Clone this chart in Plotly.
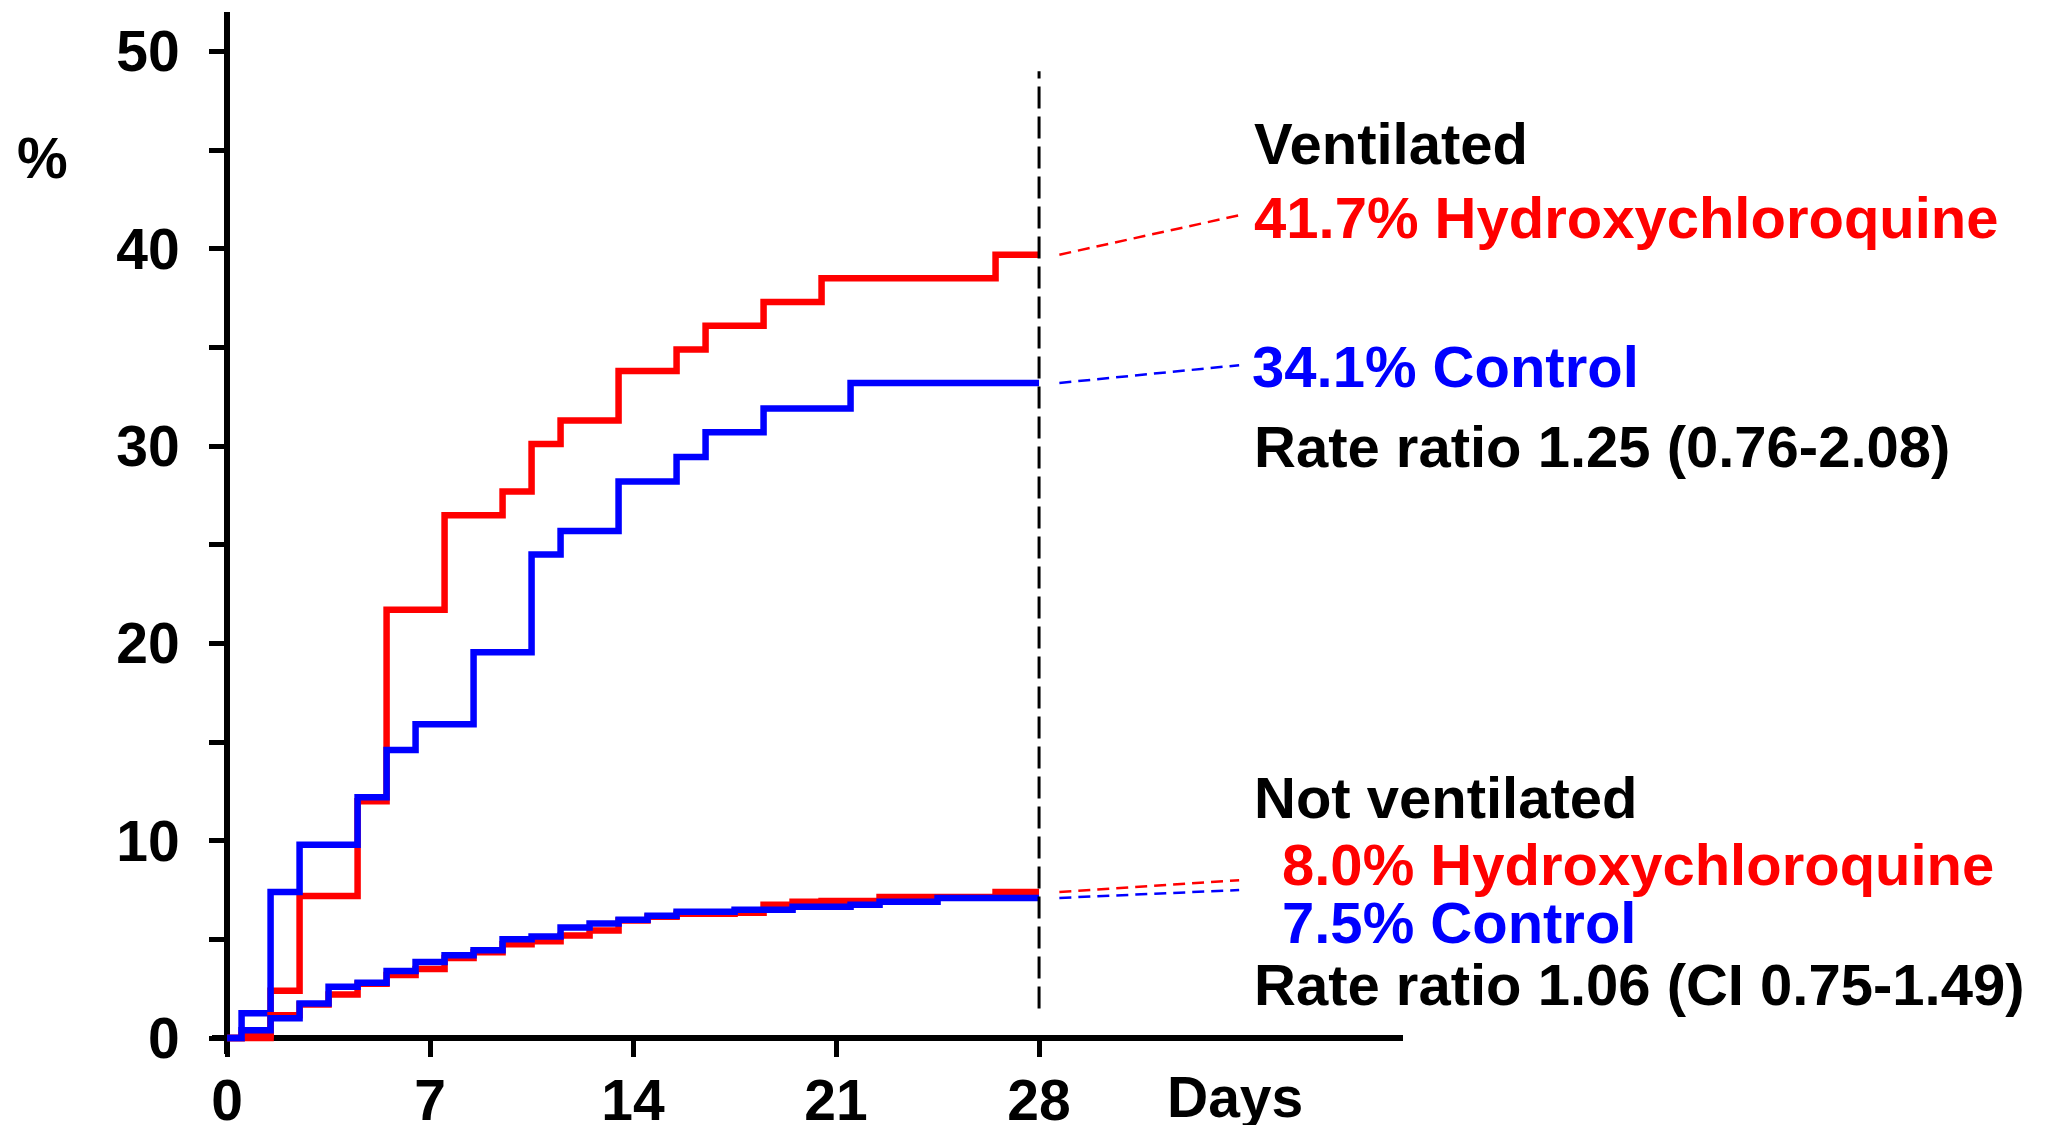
import plotly.graph_objects as go

# ---------------- data (cumulative % by day, step functions) ----------------
vent_hcq_days = [0, 1.5, 2.5, 4.5, 5.5, 7.5, 9.5, 10.5, 11.5, 13.5, 15.5, 16.5, 18.5, 20.5, 26.5, 28]
vent_hcq_pct = [0, 2.4, 7.2, 12.0, 21.7, 26.5, 27.7, 30.1, 31.3, 33.8, 34.9, 36.1, 37.3, 38.5, 39.7, 39.7]

vent_ctl_days = [0, 0.5, 1.5, 2.5, 4.5, 5.5, 6.5, 8.5, 10.5, 11.5, 13.5, 15.5, 16.5, 18.5, 21.5, 28]
vent_ctl_pct = [0, 1.25, 7.4, 9.8, 12.2, 14.6, 15.9, 19.55, 24.5, 25.7, 28.2, 29.45, 30.7, 31.9, 33.2, 33.2]

nonvent_hcq_days = [0, 0.5, 1.5, 2.5, 3.5, 4.5, 5.5, 6.5, 7.5, 8.5, 9.5, 10.5, 11.5, 12.5, 13.5,
                    14.5, 15.5, 17.5, 18.5, 19.5, 20.5, 22.5, 26.5, 28]
nonvent_hcq_pct = [0, 0.15, 1.15, 1.7, 2.2, 2.75, 3.2, 3.5, 4.05, 4.35, 4.75, 4.9, 5.2, 5.45, 5.95,
                   6.15, 6.3, 6.35, 6.75, 6.9, 6.95, 7.15, 7.4, 7.4]

nonvent_ctl_days = [0, 0.5, 1.5, 2.5, 3.5, 4.5, 5.5, 6.5, 7.5, 8.5, 9.5, 10.5, 11.5, 12.5, 13.5,
                    14.5, 15.5, 17.5, 19.5, 21.5, 22.5, 24.5, 28]
nonvent_ctl_pct = [0, 0.4, 1.0, 1.75, 2.6, 2.8, 3.4, 3.85, 4.2, 4.45, 5.0, 5.15, 5.6, 5.8, 6.0,
                   6.2, 6.4, 6.5, 6.65, 6.75, 6.9, 7.1, 7.1]

# reported 28-day percentages (labels)
vent_hcq_label = 41.7
vent_ctl_label = 34.1
nonvent_hcq_label = 8.0
nonvent_ctl_label = 7.5

x_ticks = [0, 7, 14, 21, 28]
y_ticks = [0, 5, 10, 15, 20, 25, 30, 35, 40, 45, 50]
y_tick_text = ["0", "", "10", "", "20", "", "30", "", "40", "", "50"]

RED = "#FF0000"
BLUE = "#0000FF"
FONT = "Liberation Sans, Arial, Helvetica, sans-serif"

X_RANGE = [-0.52, 40.55]
Y_RANGE = [-0.81, 52.0]
END_DAY = 28
CONN_X0, CONN_X1 = 28.7, 34.9


def px(x):
    return (x - X_RANGE[0]) / (X_RANGE[1] - X_RANGE[0])


def py(y):
    return (y - Y_RANGE[0]) / (Y_RANGE[1] - Y_RANGE[0])


fig = go.Figure()


def step(days, pct, color):
    fig.add_trace(go.Scatter(x=days, y=pct, mode="lines", line_shape="hv",
                             line=dict(color=color, width=6.5), hoverinfo="skip",
                             showlegend=False))


step(vent_hcq_days, vent_hcq_pct, RED)
step(vent_ctl_days, vent_ctl_pct, BLUE)
step(nonvent_hcq_days, nonvent_hcq_pct, RED)
step(nonvent_ctl_days, nonvent_ctl_pct, BLUE)

# connectors from curve end to label
for final, label, color in [(vent_hcq_pct[-1], vent_hcq_label, RED),
                            (vent_ctl_pct[-1], vent_ctl_label, BLUE),
                            (nonvent_hcq_pct[-1], nonvent_hcq_label, RED),
                            (nonvent_ctl_pct[-1], nonvent_ctl_label, BLUE)]:
    fig.add_trace(go.Scatter(x=[CONN_X0, CONN_X1], y=[final, label], mode="lines",
                             line=dict(color=color, width=2.5, dash="12px,7px"),
                             hoverinfo="skip", showlegend=False))

# vertical dashed line at day 28
fig.add_trace(go.Scatter(x=[END_DAY, END_DAY], y=[1.5, 49], mode="lines",
                         line=dict(color="black", width=3, dash="22px,8px"),
                         hoverinfo="skip", showlegend=False))

texts = [
    ("Ventilated", 35.34, 45.36, "black"),
    ("41.7% Hydroxychloroquine", 35.34, 41.58, RED),
    ("34.1% Control", 35.28, 34.03, BLUE),
    ("Rate ratio 1.25 (0.76-2.08)", 35.34, 30.0, "black"),
    ("Not ventilated", 35.34, 12.17, "black"),
    ("8.0% Hydroxychloroquine", 36.31, 8.77, RED),
    ("7.5% Control", 36.31, 5.86, BLUE),
    ("Rate ratio 1.06 (CI 0.75-1.49)", 35.34, 2.69, "black"),
]
for t, x, y, c in texts:
    fig.add_annotation(x=px(x), y=py(y), xref="paper", yref="paper", text=t, showarrow=False,
                       xanchor="left", yanchor="middle",
                       font=dict(family=FONT, size=58, weight="bold", color=c))

fig.add_annotation(x=px(34.76), y=py(-3.0), xref="paper", yref="paper", text="Days",
                   showarrow=False, xanchor="center", yanchor="middle",
                   font=dict(family=FONT, size=57, weight="bold", color="black"))
fig.add_annotation(x=px(-6.38), y=py(44.6), xref="paper", yref="paper", text="%",
                   showarrow=False, xanchor="center", yanchor="middle",
                   font=dict(family=FONT, size=57, weight="bold", color="black"))

tick_font = dict(family=FONT, size=57, weight="bold", color="black")

# the page body adds an 8px margin, so the figure is 16px smaller and shifted
fig.update_layout(
    width=2030, height=1117,
    margin=dict(l=204, r=635, t=4, b=71, pad=0, autoexpand=False),
    paper_bgcolor="white", plot_bgcolor="white",
    showlegend=False,
    xaxis=dict(range=X_RANGE, tickmode="array", tickvals=x_ticks,
               ticks="outside", ticklen=16, tickwidth=5, tickcolor="black",
               showline=True, linewidth=6, linecolor="black",
               showgrid=False, zeroline=False, layer="below traces",
               anchor="free", position=py(0), automargin=False,
               tickfont=tick_font, ticklabelstandoff=-5),
    yaxis=dict(range=Y_RANGE, tickmode="array", tickvals=y_ticks, ticktext=y_tick_text,
               ticks="outside", ticklen=15, tickwidth=5, tickcolor="black",
               showline=True, linewidth=6, linecolor="black",
               showgrid=False, zeroline=False, layer="below traces",
               anchor="free", position=px(0), automargin=False,
               tickfont=tick_font, ticklabelstandoff=18),
)

fig.write_html("out.html")
